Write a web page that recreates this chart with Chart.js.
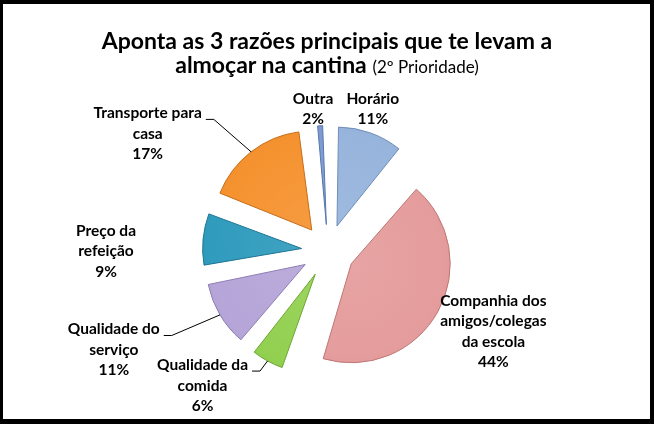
<!DOCTYPE html>
<html>
<head>
<meta charset="utf-8">
<script src="https://cdn.jsdelivr.net/npm/chart.js@4"></script>
<style>
  html, body { margin: 0; padding: 0; background: #fff; }
  #wrap { position: relative; width: 654px; height: 424px; overflow: hidden; background: #fff; }
  #frame {
    position: absolute; left: 0; top: 0; width: 654px; height: 424px;
    box-sizing: border-box; border: solid #000; border-width: 4px 4px 5px 3px;
    pointer-events: none;
  }
  #title {
    position: absolute; left: 0; top: 28px; width: 654px;
    text-align: center; color: #000;
    font-family: Lato, sans-serif; font-weight: bold; font-size: 23px; line-height: 24px;
  }
  #title .sub { font-weight: normal; font-size: 17px; }
  canvas { position: absolute; left: 0; top: 0; }
</style>
</head>
<body>
<div id="wrap">
  <canvas id="pieChart" width="654" height="424"></canvas>
  <div id="title">Aponta as 3 razões principais que te levam a<br>almoçar na cantina <span class="sub">(2º Prioridade)</span></div>
  <div id="frame"></div>
</div>
<script>
const LABELS = [
  ['Horário'],
  ['Companhia dos', 'amigos/colegas', 'da escola'],
  ['Qualidade da', 'comida'],
  ['Qualidade do', 'serviço'],
  ['Preço da', 'refeição'],
  ['Transporte para', 'casa'],
  ['Outra'],
];
const VALUES = [11, 44, 6, 11, 9, 17, 2];

const FILLS = ['#97b4dc', '#e59c9c', '#92d050', '#b5a5d8', '#2f9bbd', '#f5922f', '#7b9bd2'];
const EDGES = ['#6f8dba', '#be7675', '#6ea636', '#8e7eb4', '#1f7593', '#c56d1a', '#5877ac'];

// label centre: [distance from pie centre, angle clockwise from 12 o'clock]
const LABEL_AT = [[149, 17.5], [184, 116], [184, 223], [236, 245.2], [222, 270], [215, 303], [143, 354]];
const LEADER = [false, false, true, true, false, true, false];

const EXPLODE = 26.5;   // px each slice is pulled out
const RADIUS = 99;
const LINE_H = 20.5;
const LABEL_FONT = 'bold 15.5px Lato, sans-serif';

const total = VALUES.reduce((a, b) => a + b, 0);

// Chart.js grows small arcs by offset/4 * fix when exploded; keep every slice the same size
function growth(arc) {
  return EXPLODE * (1 - Math.sin(Math.min(Math.PI, arc.circumference)));
}

function shade(hex, f) {
  const n = parseInt(hex.slice(1), 16);
  const ch = [(n >> 16) & 255, (n >> 8) & 255, n & 255].map(v =>
    Math.round(f > 0 ? v + (255 - v) * f : v * (1 + f)));
  return `rgb(${ch[0]},${ch[1]},${ch[2]})`;
}

// soft bevel: a touch lighter inside, darker toward the rim
function sliceFill(c) {
  const base = FILLS[c.dataIndex];
  const area = c.chart.chartArea;
  if (!area) return base;
  const cx = (area.left + area.right) / 2;
  const cy = (area.top + area.bottom) / 2;
  const g = c.chart.ctx.createRadialGradient(cx, cy, 0, cx, cy, RADIUS + EXPLODE);
  g.addColorStop(0, shade(base, 0.08));
  g.addColorStop(0.75, base);
  g.addColorStop(0.97, shade(base, -0.06));
  g.addColorStop(1, shade(base, 0.15));
  return g;
}

const evenExplode = {
  id: 'evenExplode',
  beforeDatasetsDraw(chart) {
    const meta = chart.getDatasetMeta(0);
    const r = meta.controller.outerRadius;
    meta.data.forEach(arc => { arc.outerRadius = r - growth(arc); });
  },
};

const pieLabels = {
  id: 'pieLabels',
  afterDatasetsDraw(chart) {
    const ctx = chart.ctx;
    const meta = chart.getDatasetMeta(0);
    const r = meta.controller.outerRadius;
    ctx.save();
    ctx.font = LABEL_FONT;
    ctx.fillStyle = '#000';
    ctx.textAlign = 'center';
    ctx.textBaseline = 'middle';
    meta.data.forEach((arc, i) => {
      const [dist, deg] = LABEL_AT[i];
      const a = (deg - 90) * Math.PI / 180;
      const lx = arc.x + dist * Math.cos(a);
      const ly = arc.y + dist * Math.sin(a);
      const lines = LABELS[i].concat([Math.round(VALUES[i] / total * 100) + '%']);
      const y0 = ly - (lines.length - 1) * LINE_H / 2;
      lines.forEach((t, k) => ctx.fillText(t, lx, y0 + k * LINE_H));

      if (LEADER[i]) {
        const mid = (arc.startAngle + arc.endAngle) / 2;
        const ex = arc.x + (EXPLODE + r) * Math.cos(mid);
        const ey = arc.y + (EXPLODE + r) * Math.sin(mid);
        const w = ctx.measureText(lines[0]).width;
        const sx = lx + w / 2 + 4;
        const sy = y0 + 6;
        ctx.beginPath();
        ctx.strokeStyle = '#000';
        ctx.lineWidth = 1;
        ctx.moveTo(sx, sy);
        ctx.lineTo(sx + 8, sy);
        ctx.lineTo(ex, ey);
        ctx.stroke();
      }
    });
    ctx.restore();
  },
};

new Chart(document.getElementById('pieChart'), {
  type: 'pie',
  data: {
    labels: LABELS.map(l => l.join(' ')),
    datasets: [{
      data: VALUES,
      backgroundColor: sliceFill,
      borderColor: EDGES,
      borderWidth: 1,
      offset: EXPLODE * 4,
      hoverOffset: 0,
    }],
  },
  options: {
    responsive: false,
    animation: false,
    events: [],
    radius: RADIUS,
    layout: { padding: { left: 178, right: 176, top: 101, bottom: 23 } },
    plugins: {
      legend: { display: false },
      title: { display: false },
      tooltip: { enabled: false },
    },
  },
  plugins: [evenExplode, pieLabels],
});
</script>
</body>
</html>
